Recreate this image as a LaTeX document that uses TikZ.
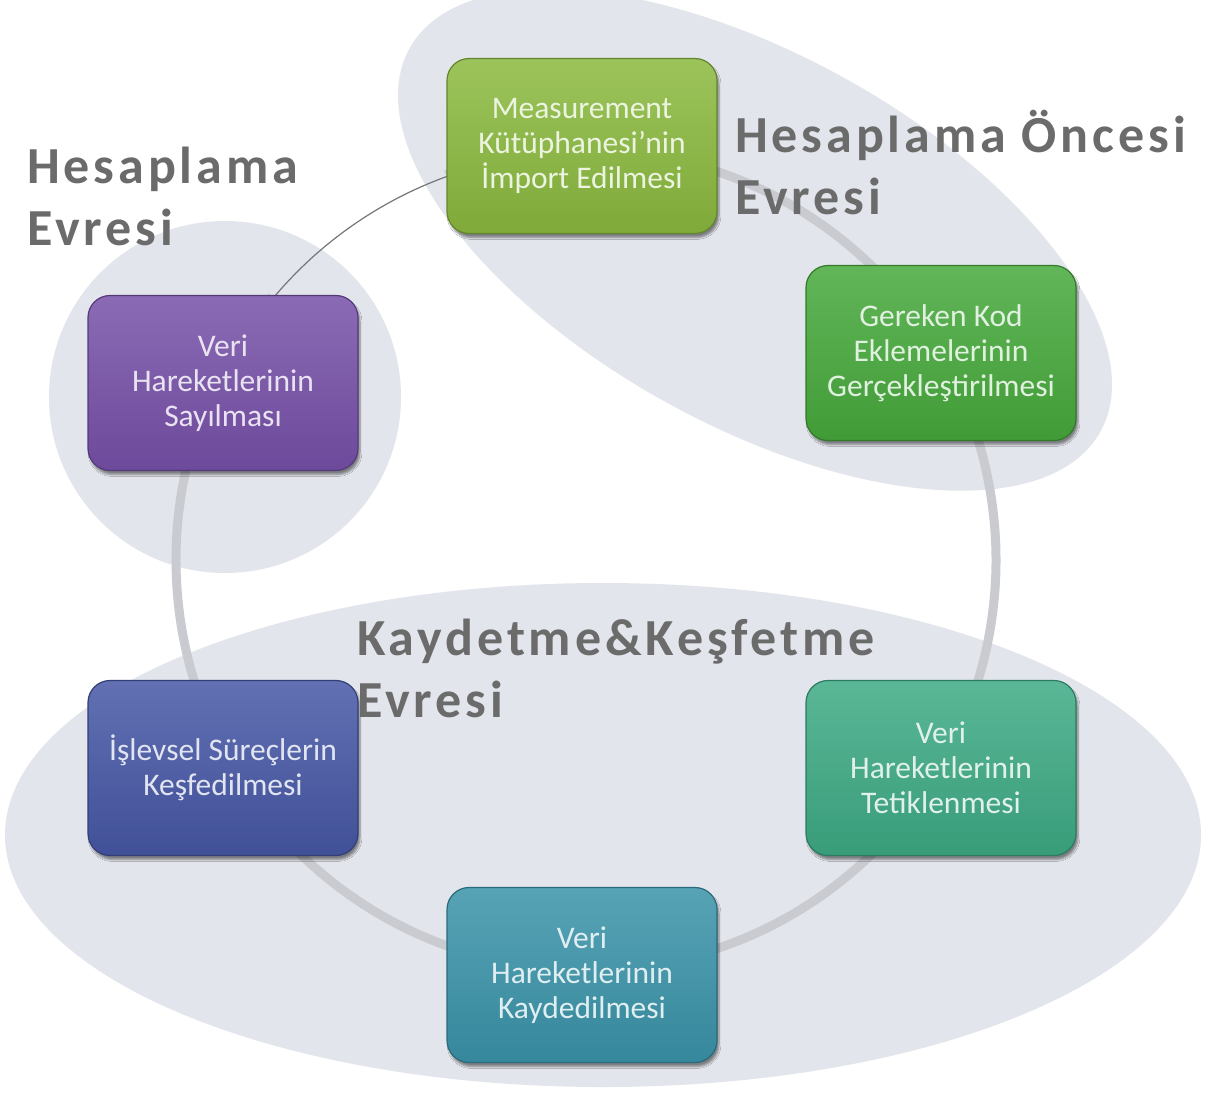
\documentclass[tikz,border=0pt]{standalone}
\usepackage{fontspec}
\setmainfont{Carlito}
\newfontfamily\labfont{Carlito}[LetterSpace=7.5]
\usetikzlibrary{shadows.blur}
\definecolor{bgshape}{RGB}{227,229,236}
\definecolor{ringc}{RGB}{201,203,209}
\definecolor{thinc}{RGB}{118,118,122}
\definecolor{labc}{RGB}{107,107,107}
\definecolor{cA}{HTML}{8AB93E}
\definecolor{cB}{HTML}{46A93B}
\definecolor{cC}{HTML}{3DAA84}
\definecolor{cD}{HTML}{3A93A9}
\definecolor{cE}{HTML}{4657A5}
\definecolor{cF}{HTML}{7650A8}
\tikzset{
  stagebox/.style={rounded corners=22pt, minimum width=270pt, minimum height=175pt,
    align=center, inner sep=0pt, font=\fontsize{31.5}{35}\selectfont, line width=1.2pt,
    blur shadow={shadow xshift=2pt, shadow yshift=-4pt, shadow opacity=45, shadow blur steps=6}},
  boxcol/.style={draw=#1!72!black, top color=#1!85!white, bottom color=#1!92!black, text=white!84!#1},
  phase/.style={font=\labfont\bfseries\fontsize{52}{62}\selectfont, text=labc, align=left,
    anchor=north west, inner sep=0pt},
  bgblob/.style={fill=bgshape, draw=none},
  ring/.style={draw=ringc, line width=9pt},
  thinarc/.style={draw=thinc, line width=1.2pt}
}
\begin{document}
\begin{tikzpicture}[x=1pt,y=-1pt]
\useasboundingbox (0,0) rectangle (1209,1093);
\fill[white] (0,0) rectangle (1209,1093);
% phase backgrounds
\fill[bgblob] (603,835) ellipse [x radius=598pt, y radius=252pt];
\fill[bgblob, rotate around={-29:(755,240)}] (755,240) ellipse [x radius=395pt, y radius=185pt];
\fill[bgblob] (225,397) circle [radius=176pt];
% cycle ring
\coordinate (c) at (586,560);
\draw[ring] (c) ++(140:410pt) arc[start angle=140, end angle=470, radius=410pt];
\draw[thinarc] (c) ++(108:408pt) arc[start angle=108, end angle=142, radius=408pt];
% stages
\node[stagebox, boxcol=cA] (s1) at (582,146) {Measurement\\Kütüphanesi’nin\\İmport Edilmesi};
\node[stagebox, boxcol=cB] (s2) at (941,353) {Gereken Kod\\Eklemelerinin\\Gerçekleştirilmesi};
\node[stagebox, boxcol=cC] (s3) at (941,768) {Veri\\Hareketlerinin\\Tetiklenmesi};
\node[stagebox, boxcol=cD] (s4) at (582,975) {Veri\\Hareketlerinin\\Kaydedilmesi};
\node[stagebox, boxcol=cE] (s5) at (223,768) {İşlevsel Süreçlerin\\Keşfedilmesi};
\node[stagebox, boxcol=cF] (s6) at (223,383) {Veri\\Hareketlerinin\\Sayılması};
% phase labels
\node[phase] (p1) at (27,143) {\rule{0pt}{40pt}Hesaplama\\Evresi};
\node[phase] (p2) at (735,110) {\rule{0pt}{40pt}Hesaplama Öncesi\\Evresi};
\node[phase] (p3) at (357,615) {\rule{0pt}{40pt}Kaydetme\&Keşfetme\\Evresi};
\end{tikzpicture}
\end{document}
